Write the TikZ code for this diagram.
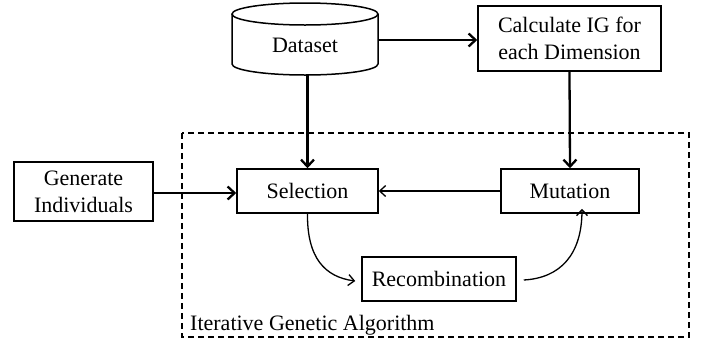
\documentclass[tikz,border=0pt]{standalone}
\usepackage{fontspec}
\setmainfont{Liberation Serif}
\usetikzlibrary{arrows.meta,calc}
\begin{document}
\begin{tikzpicture}[x=1pt,y=-1pt,
  txt/.style={font=\fontsize{22}{27}\selectfont},
  box/.style={draw, line width=1.5pt, rectangle, inner sep=0pt, align=center, txt},
  thickarrow/.style={line width=2.3pt, -{Straight Barb[length=7pt,width=13pt,line width=2.3pt]}},
  thinarrow/.style={line width=1.3pt, -{Straight Barb[length=6pt,width=11pt,line width=1.3pt]}},
  dashbox/.style={draw, line width=1.5pt, dash pattern=on 6pt off 4pt}]
\useasboundingbox (0,0) rectangle (710,346);
% dashed region
\draw[dashbox] (182,133) rectangle (689,337);
\node[anchor=base west, inner sep=0pt, txt] (iga) at (190,330) {Iterative Genetic Algorithm};
% cylinder
\draw[line width=1.5pt] (232,14) -- (232,64) arc[start angle=180, end angle=360, x radius=73pt, y radius=11pt] -- (378,14);
\draw[line width=1.5pt] (305,14) ellipse [x radius=73pt, y radius=11pt];
\node[inner sep=0pt, minimum width=146pt, minimum height=72pt] (data) at (305,39) {};
\node[txt, inner sep=0pt] (datatext) at (305,45) {Dataset};
% boxes
\node[box, minimum width=183pt, minimum height=65pt] (calc) at (569.5,38.5) {Calculate IG for\\each Dimension};
\node[box, minimum width=139pt, minimum height=59pt] (gen) at (83.5,191.5) {Generate\\Individuals};
\node[box, minimum width=141pt, minimum height=44pt] (sel) at (307.5,191) {Selection};
\node[box, minimum width=138pt, minimum height=44pt] (mut) at (570,191) {Mutation};
\node[box, minimum width=154pt, minimum height=44pt] (rec) at (439,279) {Recombination};
% arrows
\draw[thickarrow] (data.east |- 0,40) -- (calc.west |- 0,40);
\draw[thickarrow] (sel.north |- data.south) -- (sel.north);
\draw[thickarrow] (calc.south) -- (mut.north);
\draw[thickarrow] (gen.east |- 0,193) -- (sel.west |- 0,193);
\draw[thinarrow] (mut.west) -- (sel.east);
\draw[thinarrow] (sel.south) .. controls (307,258) and (325,277) .. ([xshift=-6pt,yshift=-2pt]rec.west);
\draw[thinarrow] ([xshift=7pt,yshift=-1pt]rec.east) .. controls (560,278) and (582,255) .. ([xshift=12pt,yshift=5pt]mut.south);
\end{tikzpicture}
\end{document}
